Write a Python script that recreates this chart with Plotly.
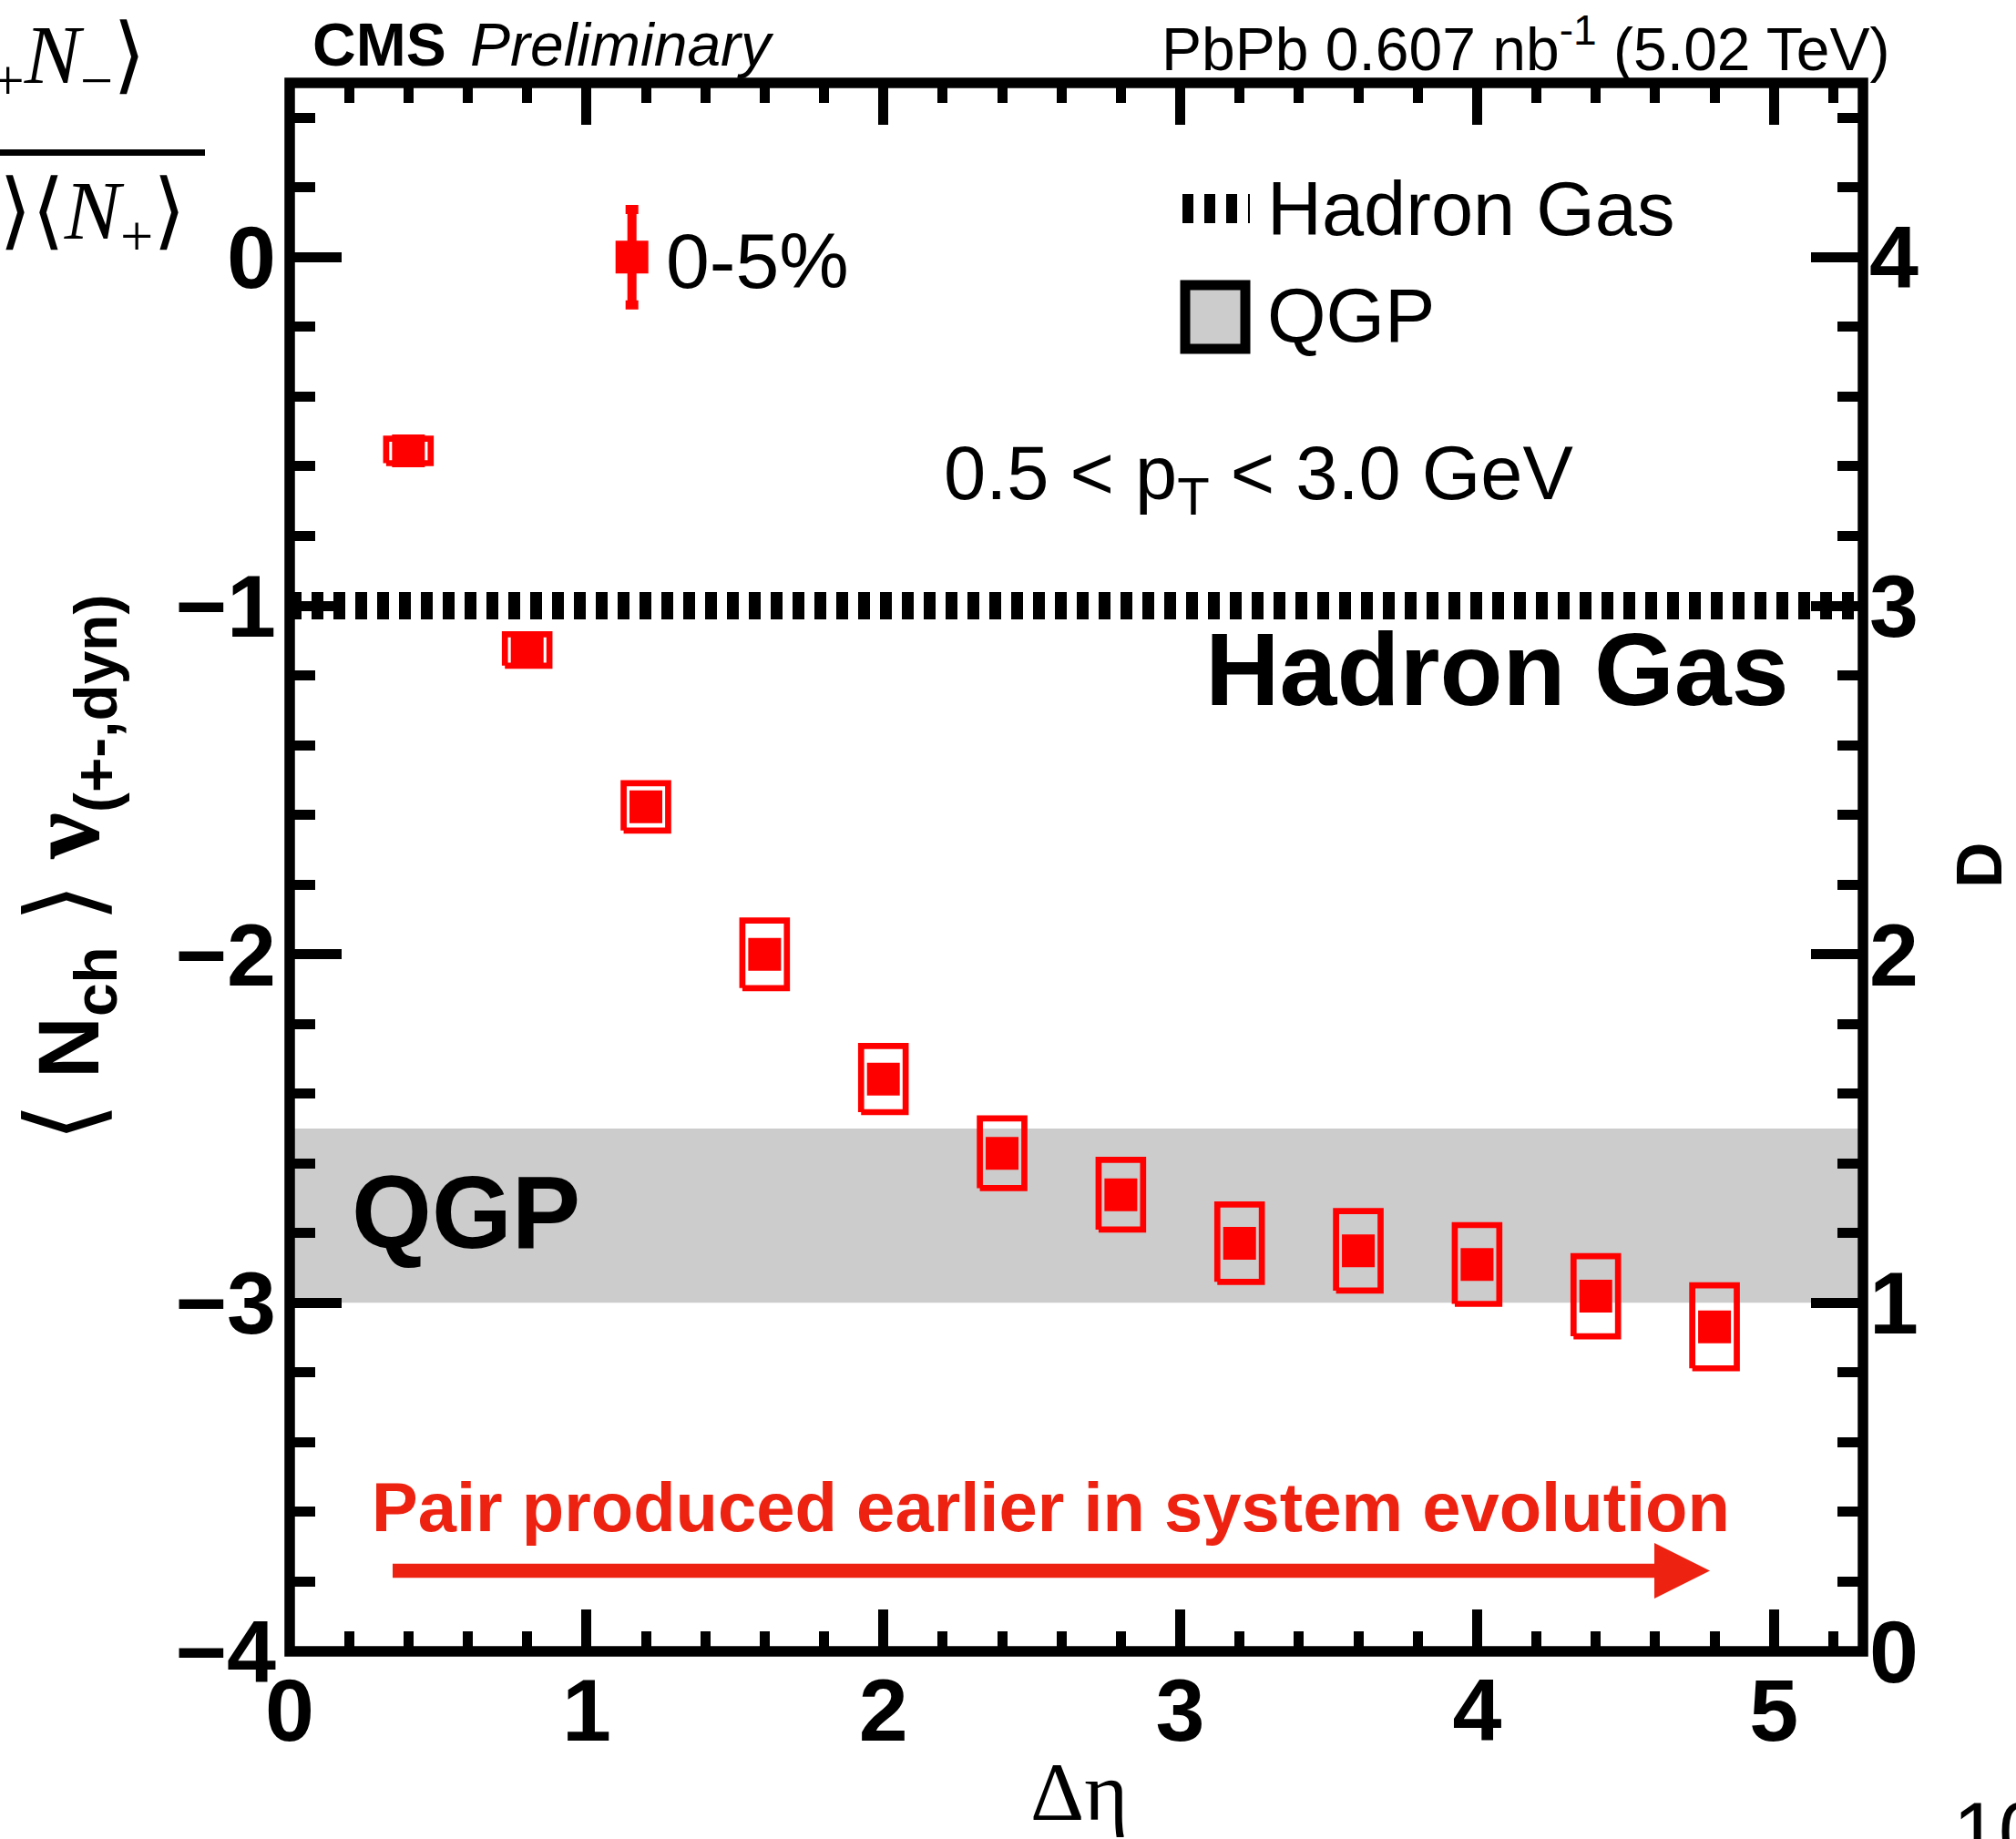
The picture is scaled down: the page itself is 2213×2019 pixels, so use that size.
import plotly.graph_objects as go

# ---------------- data ----------------
deta = [0.4, 0.8, 1.2, 1.6, 2.0, 2.4, 2.8, 3.2, 3.6, 4.0, 4.4, 4.8]
nu_dyn = [-0.556, -1.127, -1.577, -2.000, -2.358, -2.571, -2.690, -2.829, -2.851, -2.890, -2.981, -3.069]
nu_syst = [0.035, 0.045, 0.068, 0.097, 0.095, 0.100, 0.100, 0.111, 0.114, 0.113, 0.115, 0.119]

hadron_gas_level = -1.0
qgp_band = [-3.0, -2.5]

x_ticks = [0, 1, 2, 3, 4, 5]
y_ticks = [-4, -3, -2, -1, 0]
d_ticks = [0, 1, 2, 3, 4]
X_RANGE = [0, 5.3]
Y_RANGE = [-4, 0.5]
D_RANGE = [0, 4.5]

# ---------------- layout constants ----------------
W, H = 2213, 2019
ML, MR, MT, MB = 318, 168, 91, 206
PW = W - ML - MR
PH = H - MT - MB

def px(x):
    return (x - ML) / PW

def py(y):
    return (H - MB - y) / PH

RED = '#ff0000'
ARROW_RED = '#ee2211'
FONT = 'Liberation Sans, Arial, Helvetica, sans-serif'
SERIF = 'Liberation Serif, Times New Roman, serif'
BOX_HW = 0.075  # half width of systematic boxes (x units)

fig = go.Figure()

# QGP band
fig.add_shape(type='rect', xref='paper', x0=0, x1=1, yref='y', y0=qgp_band[0], y1=qgp_band[1],
              fillcolor='#cccccc', line_width=0, layer='below')

# Hadron gas line
fig.add_trace(go.Scatter(x=X_RANGE, y=[hadron_gas_level, hadron_gas_level], mode='lines',
                         line=dict(color='black', width=30, dash='13px,11px'),
                         hoverinfo='skip', showlegend=False))

# systematic boxes
bx, by = [], []
for x, y, s in zip(deta, nu_dyn, nu_syst):
    bx += [x - BOX_HW, x + BOX_HW, x + BOX_HW, x - BOX_HW, x - BOX_HW, None]
    by += [y - s, y - s, y + s, y + s, y - s, None]
fig.add_trace(go.Scatter(x=bx, y=by, mode='lines', line=dict(color=RED, width=6.7),
                         hoverinfo='skip', showlegend=False))

# data points
fig.add_trace(go.Scatter(x=deta, y=nu_dyn, mode='markers',
                         marker=dict(symbol='square', size=36, color=RED, line_width=0),
                         showlegend=False))

# legend-like marker for 0-5%
LEG_X, LEG_Y, LEG_ERR = 1.153, 0.0, 0.137
fig.add_trace(go.Scatter(x=[LEG_X], y=[LEG_Y], mode='markers',
                         marker=dict(symbol='square', size=36, color=RED, line_width=0),
                         error_y=dict(type='data', array=[LEG_ERR], color=RED, thickness=10, width=7),
                         showlegend=False))

# dummy trace for right axis
fig.add_trace(go.Scatter(x=[X_RANGE[0]], y=[D_RANGE[0]], yaxis='y2', mode='markers',
                         marker=dict(size=1, opacity=0), hoverinfo='skip', showlegend=False))

tickfont = dict(family=FONT, size=97, color='black', weight='bold')

fig.update_layout(
    width=W, height=H,
    margin=dict(l=ML, r=MR, t=MT, b=MB, pad=0, autoexpand=False),
    paper_bgcolor='white', plot_bgcolor='white', showlegend=False,
    xaxis=dict(range=X_RANGE, tickvals=x_ticks, ticks='inside', ticklen=46, tickwidth=11,
               tickcolor='black', mirror='ticks', showline=False, showgrid=False, zeroline=False,
               tickfont=tickfont,
               minor=dict(dtick=0.2, tick0=0, ticks='inside', ticklen=22, tickwidth=11,
                          tickcolor='black', showgrid=False)),
    yaxis=dict(range=Y_RANGE, tickvals=y_ticks, ticks='inside', ticklen=57, tickwidth=11,
               tickcolor='black', mirror='ticks', showline=False, showgrid=False, zeroline=False,
               tickfont=tickfont, ticklabelstandoff=14,
               minor=dict(dtick=0.2, tick0=0, ticks='inside', ticklen=28, tickwidth=11,
                          tickcolor='black', showgrid=False)),
    yaxis2=dict(range=D_RANGE, overlaying='y', side='right', tickvals=d_ticks, ticks='',
                showgrid=False, zeroline=False, showline=False, tickfont=tickfont,
                ticklabelstandoff=6),
)

# frame
fig.add_shape(type='rect', xref='paper', yref='paper', x0=0, x1=1, y0=0, y1=1,
              line=dict(color='black', width=11.5), fillcolor='rgba(0,0,0,0)', layer='above')

def ann(text, x, y, size, xanchor='left', yanchor='middle', color='black', family=FONT,
        weight='normal', style='normal', angle=0):
    fig.add_annotation(text=text, xref='paper', yref='paper', x=px(x), y=py(y),
                       xanchor=xanchor, yanchor=yanchor, showarrow=False, borderpad=0,
                       textangle=angle,
                       font=dict(family=family, size=size, color=color, weight=weight, style=style))

ann('CMS', 341.5, 49, 66, weight='bold')
ann('Preliminary', 515, 49, 66, style='italic')
ann('PbPb 0.607 nb<sup>-1</sup> (5.02 TeV)', 2075, 49, 66, xanchor='right')
ann('0-5%', 730, 285.5, 86)
ann('Hadron Gas', 1390, 229, 83)
ann('QGP', 1390, 346, 83)
ann('0.5 &lt; p<sub>T</sub> &lt; 3.0 GeV', 1034.5, 525, 83)
ann('Hadron Gas', 1322, 735, 113, weight='bold')
ann('QGP', 385, 1331, 113, weight='bold')
ann('Pair produced earlier in system evolution', 406.5, 1654, 76, color=ARROW_RED, weight='bold')
ann('<span style="font-size:112px">⟨</span> <b>N<sub>ch</sub></b> '
    '<span style="font-size:112px">⟩</span> '
    '<span style="font-family:Liberation Serif;font-size:114px"><b>ν</b></span><sub><b>(+-,dyn)</b></sub>',
    74, 953, 94, xanchor='center', angle=-90)
ann('D', 2173, 950, 70, xanchor='center', weight='bold', angle=-90)
ann('Δη', 1184, 1967, 92, xanchor='center', family=SERIF)
ann('10', 2143, 1960, 90, yanchor='top')
ann('⟨<i>N</i><sub>+</sub><i>N</i><sub>−</sub>⟩', 161, 67, 92, xanchor='right', family=SERIF)
ann('⟨<i>N</i><sub>−</sub>⟩⟨<i>N</i><sub>+</sub>⟩', 205, 238, 92, xanchor='right', family=SERIF)

# fraction bar
fig.add_shape(type='line', xref='paper', yref='paper', x0=px(-20), x1=px(225), y0=py(167.5), y1=py(167.5),
              line=dict(color='black', width=7))

# legend symbols
fig.add_shape(type='line', xref='paper', yref='paper', x0=px(1298), x1=px(1372), y0=py(229), y1=py(229),
              line=dict(color='black', width=32, dash='12px,12px'))
fig.add_shape(type='rect', xref='paper', yref='paper', x0=px(1301), x1=px(1367), y0=py(383), y1=py(313),
              line=dict(color='black', width=11), fillcolor='#cccccc')

# red arrow
fig.add_shape(type='line', xref='paper', yref='paper', x0=px(431), x1=px(1820), y0=py(1724.5), y1=py(1724.5),
              line=dict(color=ARROW_RED, width=15.6))
fig.add_shape(type='path', xref='paper', yref='paper',
              path=f'M {px(1816)},{py(1694)} L {px(1877)},{py(1724.5)} L {px(1816)},{py(1755)} Z',
              fillcolor=ARROW_RED, line_width=0)

fig.write_html('out.html', config={'displayModeBar': False},
               post_script="document.body.style.margin='0px';")
